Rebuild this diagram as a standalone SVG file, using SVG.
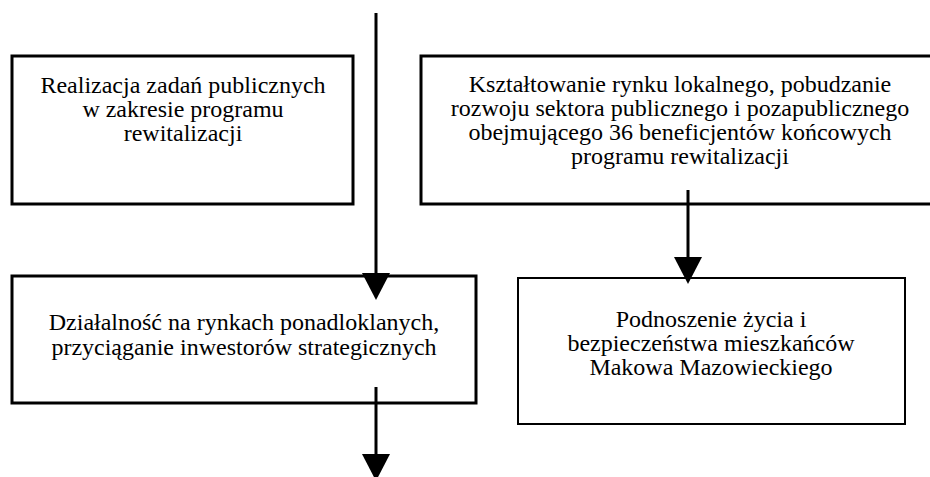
<svg xmlns="http://www.w3.org/2000/svg" width="930" height="477" viewBox="0 0 930 477">
<style>
.box{fill:#fff;stroke:#000;stroke-width:3}
.thin{stroke-width:2}
.t{font-family:"Liberation Serif","Times New Roman",serif;font-size:24px;fill:#000;text-anchor:middle}
.c{stroke:#000;stroke-width:3;fill:none}
</style>
<defs>
<marker id="ah" markerUnits="userSpaceOnUse" markerWidth="28" markerHeight="28" refX="0" refY="14" orient="auto" viewBox="0 0 27 28">
<path d="M0,0 L27,14 L0,28 Z" fill="#000"/>
</marker>
</defs>
<rect width="930" height="477" fill="#fff"/>
<g id="n1">
<rect class="box" x="12" y="56" width="341" height="148"/>
<text class="t" x="183" y="93">Realizacja zadań publicznych</text>
<text class="t" x="183" y="117">w zakresie programu</text>
<text class="t" x="183" y="141">rewitalizacji</text>
</g>
<g id="n2">
<rect class="box" x="421" y="56" width="518" height="148"/>
<text class="t" x="680" y="92">Kształtowanie rynku lokalnego, pobudzanie</text>
<text class="t" x="680" y="116">rozwoju sektora publicznego i pozapublicznego</text>
<text class="t" x="680" y="140">obejmującego 36 beneficjentów końcowych</text>
<text class="t" x="680" y="164">programu rewitalizacji</text>
</g>
<g id="n3">
<rect class="box" x="12" y="276" width="464" height="127"/>
<text class="t" x="244" y="330">Działalność na rynkach ponadloklanych,</text>
<text class="t" x="244" y="355">przyciąganie inwestorów strategicznych</text>
</g>
<g id="n4">
<rect class="box thin" x="518" y="278" width="387" height="146"/>
<text class="t" x="711" y="327">Podnoszenie życia i</text>
<text class="t" x="711" y="351">bezpieczeństwa mieszkańców</text>
<text class="t" x="711" y="375">Makowa Mazowieckiego</text>
</g>
<g id="connectors">
<line class="c" x1="376" y1="13" x2="376" y2="273" marker-end="url(#ah)"/>
<line class="c" x1="688" y1="190" x2="688" y2="257" marker-end="url(#ah)"/>
<line class="c" x1="376" y1="387" x2="376" y2="454" marker-end="url(#ah)"/>
</g>
</svg>
